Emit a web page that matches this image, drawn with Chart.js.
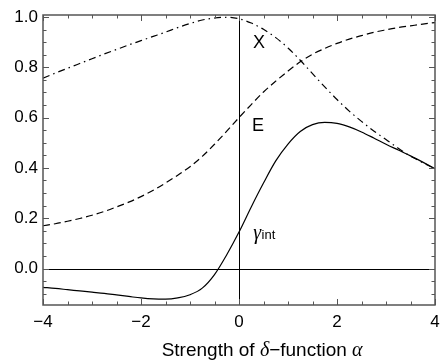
<!DOCTYPE html>
<html><head><meta charset="utf-8">
<script src="https://cdn.jsdelivr.net/npm/chart.js@4"></script>
<style>html,body{margin:0;padding:0;background:#fff}#wrap{width:440px;height:360px}</style>
</head><body><div id="wrap"><canvas id="c" width="440" height="360"></canvas></div>
<script>
// Strength of delta-function alpha
const alphaValues = [-4,-3.75,-3.5,-3.25,-3,-2.75,-2.5,-2.25,-2,-1.75,-1.5,-1.25,-1,-0.75,-0.5,-0.25,
  0,0.25,0.5,0.75,1,1.25,1.5,1.75,2,2.25,2.5,2.75,3,3.25,3.5,3.75,4];
// gamma_int (solid)
const gammaInt = [-0.075,-0.079,-0.084,-0.089,-0.094,-0.099,-0.105,-0.111,-0.117,-0.121,-0.122,-0.117,-0.104,-0.078,-0.024,0.055,
  0.145,0.245,0.340,0.428,0.495,0.545,0.572,0.581,0.577,0.563,0.543,0.519,0.494,0.471,0.448,0.423,0.397];
// E (dashed)
const eValues = [0.170,0.178,0.188,0.199,0.212,0.227,0.245,0.264,0.286,0.311,0.340,0.371,0.405,0.446,0.494,0.546,
  0.600,0.652,0.702,0.745,0.785,0.822,0.852,0.875,0.895,0.912,0.926,0.939,0.949,0.958,0.965,0.972,0.978];
// X (dash-dot)
const xValues = [0.757,0.777,0.796,0.815,0.834,0.853,0.871,0.889,0.906,0.923,0.940,0.958,0.974,0.988,0.996,0.999,
  0.993,0.976,0.951,0.918,0.877,0.828,0.775,0.722,0.672,0.626,0.585,0.547,0.513,0.478,0.447,0.421,0.397];

const xTickValues = [-4,-2,0,2,4];
const yTickValues = [0.0,0.2,0.4,0.6,0.8,1.0];
const xMinorTicks = [-3.5,-3,-2.5,-1.5,-1,-0.5,0.5,1,1.5,2.5,3,3.5];
const yMinorTicks = [-0.1,-0.05,0.05,0.1,0.15,0.25,0.3,0.35,0.45,0.5,0.55,0.65,0.7,0.75,0.85,0.9,0.95];

const curveLabels = [
  {text:'X', x:0.41, y:0.896},
  {text:'E', x:0.39, y:0.566}
];
const gammaLabel = {x:0.29, y:0.117};
const axisTitle = [
  {t:'Strength of ', italic:false},
  {t:'\u03B4', italic:true},
  {t:'\u2212function ', italic:false},
  {t:'\u03B1', italic:true}
];

const SANS = '"Liberation Sans", Arial, sans-serif';
const SERIF = '"Liberation Serif", "Times New Roman", serif';

function pts(vals){ return alphaValues.map((a,i)=>({x:a,y:vals[i]})); }
function noPad(s){ s.paddingLeft = 0; s.paddingRight = 0; s.paddingTop = 0; s.paddingBottom = 0; }

const decor = {
  id:'decor',
  beforeDatasetsDraw(chart){
    const {ctx, chartArea:a, scales:{x,y}} = chart;
    ctx.save();
    ctx.strokeStyle = '#000'; ctx.lineWidth = 1;
    const y0 = Math.round(y.getPixelForValue(0))+0.5;
    const x0 = Math.round(x.getPixelForValue(0))+0.5;
    ctx.beginPath(); ctx.moveTo(a.left,y0); ctx.lineTo(a.right,y0); ctx.stroke();
    ctx.beginPath(); ctx.moveTo(x0,a.top); ctx.lineTo(x0,a.bottom); ctx.stroke();
    ctx.restore();
  },
  afterDatasetsDraw(chart){
    const {ctx, chartArea:a, scales:{x,y}} = chart;
    ctx.save();
    ctx.strokeStyle = '#555'; ctx.lineWidth = 1.5;
    ctx.strokeRect(a.left, a.top, a.right-a.left, a.bottom-a.top);
    ctx.lineWidth = 1;
    const tick = (vals, len) => {
      vals.forEach(v=>{
        const px = Math.round(x.getPixelForValue(v))+0.5;
        ctx.beginPath(); ctx.moveTo(px,a.bottom); ctx.lineTo(px,a.bottom-len);
        ctx.moveTo(px,a.top); ctx.lineTo(px,a.top+len); ctx.stroke();
      });
    };
    const tickY = (vals, len) => {
      vals.forEach(v=>{
        const py = Math.round(y.getPixelForValue(v))+0.5;
        ctx.beginPath(); ctx.moveTo(a.left,py); ctx.lineTo(a.left+len,py);
        ctx.moveTo(a.right,py); ctx.lineTo(a.right-len,py); ctx.stroke();
      });
    };
    tick(xTickValues,6); tick(xMinorTicks,3.5);
    tickY(yTickValues,6); tickY(yMinorTicks,3.5);

    // curve labels
    ctx.fillStyle = '#000';
    ctx.textAlign = 'center'; ctx.textBaseline = 'middle';
    ctx.font = '18px ' + SANS;
    curveLabels.forEach(l=>ctx.fillText(l.text, x.getPixelForValue(l.x), y.getPixelForValue(l.y)));
    ctx.textAlign = 'left'; ctx.textBaseline = 'alphabetic';
    const gx = x.getPixelForValue(gammaLabel.x), gy = y.getPixelForValue(gammaLabel.y);
    ctx.font = 'italic 20px ' + SERIF;
    ctx.fillText('\u03B3', gx, gy);
    const gw = ctx.measureText('\u03B3').width;
    ctx.font = '13px ' + SANS;
    ctx.fillText('int', gx + gw + 0.5, gy);

    // axis title
    const fontFor = s => s.italic ? ('italic 20px ' + SERIF) : ('19px ' + SANS);
    let total = 0;
    const widths = axisTitle.map(s=>{
      ctx.font = fontFor(s);
      const w = ctx.measureText(s.t).width; total += w; return w;
    });
    let cx = a.left + 0.559*(a.right-a.left) - total/2;
    const by = chart.height - 4;
    axisTitle.forEach((s,i)=>{
      ctx.font = fontFor(s);
      ctx.fillText(s.t, cx, by); cx += widths[i];
    });
    ctx.restore();
  }
};

new Chart(document.getElementById('c'), {
  type:'line',
  data:{datasets:[
    {label:'gamma_int', data:pts(gammaInt), borderColor:'#000', borderWidth:1.2, pointRadius:0, cubicInterpolationMode:'monotone', fill:false},
    {label:'E', data:pts(eValues), borderColor:'#000', borderWidth:1.2, borderDash:[7,4], pointRadius:0, cubicInterpolationMode:'monotone', fill:false},
    {label:'X', data:pts(xValues), borderColor:'#000', borderWidth:1.2, borderDash:[7,4,1.5,4], pointRadius:0, cubicInterpolationMode:'monotone', fill:false}
  ]},
  options:{
    responsive:false, animation:false, devicePixelRatio:1,
    layout:{padding:{left:0, top:15, right:5, bottom:0}},
    plugins:{legend:{display:false}, tooltip:{enabled:false}, title:{display:false}},
    scales:{
      x:{type:'linear', min:-4, max:4,
        grid:{display:false, drawTicks:false}, border:{display:false},
        afterBuildTicks:(s)=>{ s.ticks = xTickValues.map(v=>({value:v})); },
        afterFit:(s)=>{ s.height = 55; noPad(s); },
        ticks:{padding:7, color:'#000', font:{family:SANS, size:17},
          callback:(v)=> String(v).replace('-','\u2212')}},
      y:{type:'linear', min:-0.145, max:1.008,
        grid:{display:false, drawTicks:false}, border:{display:false},
        afterBuildTicks:(s)=>{ s.ticks = yTickValues.map(v=>({value:v})); },
        afterFit:(s)=>{ s.width = 43; noPad(s); },
        ticks:{padding:5, color:'#000', font:{family:SANS, size:17},
          callback:(v)=> Number(v).toFixed(1)}}
    }
  },
  plugins:[decor]
});
</script></body></html>
